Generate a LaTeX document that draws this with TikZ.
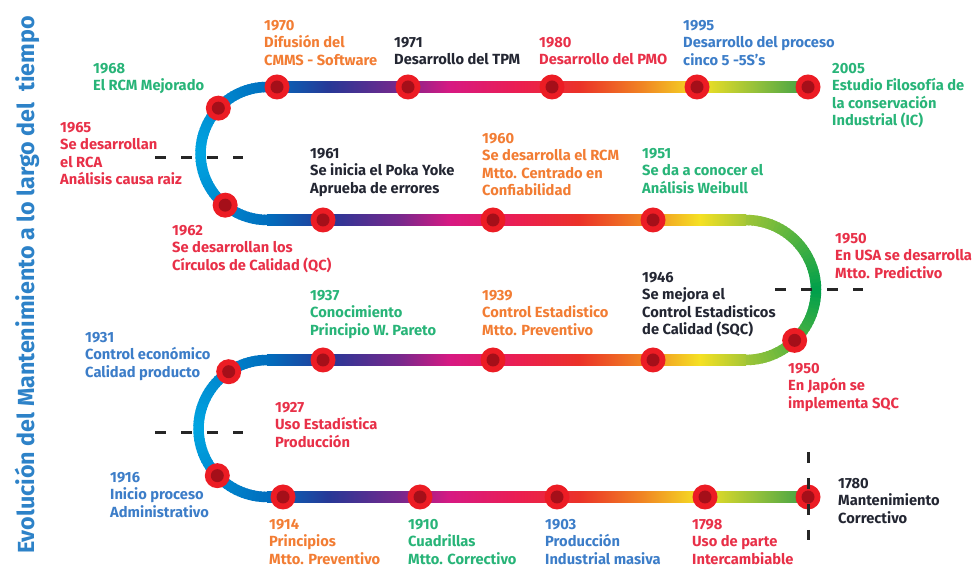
\documentclass[tikz,border=0pt]{standalone}
\usepackage{fontspec}
\setmainfont{Fira Sans}
\usetikzlibrary{positioning, calc}
\definecolor{tkA}{RGB}{0,110,190}
\definecolor{tkB}{RGB}{40,55,150}
\definecolor{tkC}{RGB}{120,40,140}
\definecolor{tkD}{RGB}{215,25,130}
\definecolor{tkE}{RGB}{235,30,80}
\definecolor{tkF}{RGB}{235,50,40}
\definecolor{tkG}{RGB}{240,130,35}
\definecolor{tkH}{RGB}{245,225,35}
\definecolor{tkI}{RGB}{140,190,60}
\definecolor{tkJ}{RGB}{60,160,70}
\definecolor{arcC}{RGB}{0,165,225}
\definecolor{arcG}{RGB}{0,160,75}
\definecolor{arcE}{RGB}{160,197,55}
\definecolor{dotOut}{RGB}{236,28,36}
\definecolor{dotIn}{RGB}{165,15,25}
\definecolor{txtOrange}{RGB}{242,125,52}
\definecolor{txtGreen}{RGB}{40,180,120}
\definecolor{txtRed}{RGB}{232,48,72}
\definecolor{txtBlue}{RGB}{60,125,200}
\definecolor{txtDark}{RGB}{35,38,50}
\definecolor{titleBlue}{RGB}{45,130,200}
\pgfdeclarehorizontalshading{trackshade}{100bp}{color(0bp)=(tkA); color(25bp)=(tkA);
  color(30.8bp)=(tkB); color(37.3bp)=(tkC); color(41.9bp)=(tkD); color(48.4bp)=(tkE);
  color(53.9bp)=(tkF); color(59.5bp)=(tkG); color(65bp)=(tkH); color(70.6bp)=(tkI);
  color(75bp)=(tkJ); color(100bp)=(tkJ)}

\begin{document}
\begin{tikzpicture}[x=1pt, y=1pt,
  lbl/.style={anchor=north west, inner sep=0pt, align=left, font=\bfseries\fontsize{14.7}{17.5}\selectfont},
  hito/.style={circle, fill=dotOut, minimum size=25pt, inner sep=0pt,
    path picture={\fill[dotIn] (path picture bounding box.center) circle (6.5pt);}},
  corte/.style={line width=3pt, black!85, dash pattern=on 11pt off 15pt},
  via/.style={line width=10.5pt}
]
\useasboundingbox (0,0) rectangle (976,569);

% centres of the bends
\coordinate (cA) at (267,415.5);
\coordinate (cB) at (746,279);
\coordinate (cC) at (267,140.5);

% straight parts
\shade[shading=trackshade] (267,476.75) rectangle (808,487.25);
\begin{scope}
  \clip (267,0) rectangle (746,569);
  \shade[shading=trackshade] (267,343.75) rectangle (808,354.25);
  \shade[shading=trackshade] (267,203.75) rectangle (808,214.25);
\end{scope}
\shade[shading=trackshade] (267,66.75) rectangle (808,77.25);

% bends
\foreach \a in {90,93,...,267}{
  \pgfmathtruncatemacro\p{abs(\a+1.5-180)/90*100}
  \pgfmathsetmacro\e{min(\a+4,270)}
  \draw[via, tkA!\p!arcC] ($(cA)+(\a:66.5)$) arc[start angle=\a, end angle=\e, radius=66.5];
  \draw[via, tkA!\p!arcC] ($(cC)+(\a:68.5)$) arc[start angle=\a, end angle=\e, radius=68.5];
}
\foreach \a in {-90,-87,...,87}{
  \pgfmathtruncatemacro\p{abs(\a+1.5)/90*100}
  \pgfmathsetmacro\e{min(\a+4,90)}
  \draw[via, arcE!\p!arcG] ($(cB)+(\a:70)$) arc[start angle=\a, end angle=\e, radius=70];
}

% milestones
\node[hito] (d1970) at (277,482) {};
\node[hito] (d1971) at (408,482) {};
\node[hito] (d1980) at (552,482) {};
\node[hito] (d1995) at (697,482) {};
\node[hito] (d2005) at (808,482) {};
\node[hito] (d1968) at ($(cA)+(137:66.5)$) {};
\node[hito] (d1962) at ($(cA)+(231:66.5)$) {};
\node[hito] (d1961) at (323,349) {};
\node[hito] (d1960) at (493,349) {};
\node[hito] (d1951) at (653,349) {};
\node[hito] (d1950) at ($(cB)+(-46:70)$) {};
\node[hito] (d1937) at (323,209) {};
\node[hito] (d1939) at (493,209) {};
\node[hito] (d1946) at (653,209) {};
\node[hito] (d1931) at ($(cC)+(124:68.5)$) {};
\node[hito] (d1916) at ($(cC)+(223.5:68.5)$) {};
\node[hito] (d1914) at (283,72) {};
\node[hito] (d1910) at (420,72) {};
\node[hito] (d1903) at (557,72) {};
\node[hito] (d1798) at (705,72) {};
\node[hito] (d1780) at (808,72) {};

% cut marks
\coordinate (k1a) at (155,411); \coordinate (k1b) at (243,411);
\coordinate (k2a) at (775,279); \coordinate (k2b) at (863,279);
\coordinate (k3a) at (155,136); \coordinate (k3b) at (243,136);
\coordinate (k4a) at (808,117); \coordinate (k4b) at (808,29);
\draw[corte] (k1a) -- (k1b);
\draw[corte] (k2a) -- (k2b);
\draw[corte] (k3a) -- (k3b);
\draw[corte] (k4a) -- (k4b);

% labels
\node[lbl, text=txtOrange] (t1970) at (264,549) {1970\\Difusión del\\CMMS - Software};
\node[lbl, text=txtGreen] (t1968) at (93,506) {1968\\El RCM Mejorado};
\node[lbl, text=txtRed] (t1965) at (60,447) {1965\\Se desarrollan\\el RCA\\Análisis causa raiz};
\node[lbl, text=txtDark] (t1971) at (394,532) {1971\\Desarrollo del TPM};
\node[lbl, text=txtRed] (t1980) at (539,532) {1980\\Desarrollo del PMO};
\node[lbl, text=txtBlue] (t1995) at (683,549) {1995\\Desarrollo del proceso\\cinco 5 -5S’s};
\node[lbl, text=txtGreen] (t2005) at (832,506) {2005\\Estudio Filosofía de\\la conservación\\Industrial (IC)};
\node[lbl, text=txtDark] (t1961) at (310,421) {1961\\Se inicia el Poka Yoke\\Aprueba de errores};
\node[lbl, text=txtOrange] (t1960) at (482,436) {1960\\Se desarrolla el RCM\\Mtto. Centrado en\\Confiabilidad};
\node[lbl, text=txtGreen] (t1951) at (642,421) {1951\\Se da a conocer el\\Análisis Weibull};
\node[lbl, text=txtRed] (t1962) at (172,344) {1962\\Se desarrollan los\\Círculos de Calidad (QC)};
\node[lbl, text=txtRed] (t1950a) at (835,336) {1950\\En USA se desarrolla\\Mtto. Predictivo};
\node[lbl, text=txtDark] (t1946) at (642,297) {1946\\Se mejora el\\Control Estadisticos\\de Calidad (SQC)};
\node[lbl, text=txtGreen] (t1937) at (310,279) {1937\\Conocimiento\\Principio W. Pareto};
\node[lbl, text=txtOrange] (t1939) at (482,279) {1939\\Control Estadistico\\Mtto. Preventivo};
\node[lbl, text=txtRed] (t1950b) at (788,206) {1950\\En Japón se\\implementa SQC};
\node[lbl, text=txtBlue] (t1931) at (85,237) {1931\\Control económico\\Calidad producto};
\node[lbl, text=txtRed] (t1927) at (275,167) {1927\\Uso Estadística\\Producción};
\node[lbl, text=txtBlue] (t1916) at (110,97) {1916\\Inicio proceso\\Administrativo};
\node[lbl, text=txtOrange] (t1914) at (269,50) {1914\\Principios\\Mtto. Preventivo};
\node[lbl, text=txtGreen] (t1910) at (408,50) {1910\\Cuadrillas\\Mtto. Correctivo};
\node[lbl, text=txtBlue] (t1903) at (545,50) {1903\\Producción\\Industrial masiva};
\node[lbl, text=txtRed] (t1798) at (692,50) {1798\\Uso de parte\\Intercambiable};
\node[lbl, text=txtDark] (t1780) at (838,91) {1780\\Mantenimiento\\Correctivo};

% title
\node[rotate=90, anchor=base, text=titleBlue, font=\bfseries\fontsize{23.3}{28}\selectfont] (titulo) at (34,284)
  {Evolución del Mantenimiento a lo largo del~ tiempo};
\end{tikzpicture}
\end{document}
